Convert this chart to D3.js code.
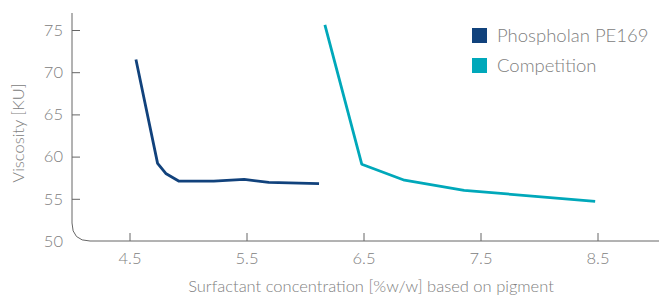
<!DOCTYPE html>
<html>
<head>
<meta charset="utf-8">
<script src="https://cdn.jsdelivr.net/npm/d3@7"></script>
<style>
  body { margin: 0; background: #fff; }
  text { font-family: Lato, "Open Sans", sans-serif; font-weight: 300; fill: #808080; }
</style>
</head>
<body>
<svg id="chart" width="659" height="296"></svg>
<script>
// data
const seriesNames = ['Phospholan PE169', 'Competition'];
const seriesColors = ['#11427c', '#00a8ba'];
const phospholan = [
  { x: 4.555, y: 71.5 }, { x: 4.74, y: 59.2 }, { x: 4.81, y: 58.0 },
  { x: 4.92, y: 57.1 }, { x: 5.22, y: 57.1 }, { x: 5.48, y: 57.3 },
  { x: 5.69, y: 56.95 }, { x: 6.12, y: 56.8 }
];
const competition = [
  { x: 6.17, y: 75.6 }, { x: 6.485, y: 59.1 }, { x: 6.85, y: 57.2 },
  { x: 7.36, y: 56.0 }, { x: 8.48, y: 54.7 }
];
const xTicks = [4.5, 5.5, 6.5, 7.5, 8.5];
const yTicks = [50, 55, 60, 65, 70, 75];

const svg = d3.select('#chart');

const x = d3.scaleLinear().domain([4, 9]).range([71, 656]);
const y = d3.scaleLinear().domain([50, 75]).range([241, 30]);

// axis frame with rounded corner
const r = 18;
svg.append('path')
  .attr('d', `M72,13 V${241 - r} Q72,241 ${72 + r},241 H659`)
  .attr('fill', 'none')
  .attr('stroke', '#666')
  .attr('stroke-width', 1);

const yAxis = svg.append('g')
  .attr('transform', 'translate(72,0)')
  .call(d3.axisLeft(y).tickValues(yTicks).tickSizeInner(-8).tickSizeOuter(0).tickPadding(9));
yAxis.select('.domain').remove();
yAxis.selectAll('line').attr('stroke', '#666');
yAxis.selectAll('.tick').filter(d => d === 50).select('line').remove();
yAxis.selectAll('text').attr('font-size', 16.5).attr('fill', '#808080');

const xAxis = svg.append('g')
  .attr('transform', 'translate(0,241)')
  .call(d3.axisBottom(x).tickValues(xTicks).tickFormat(d3.format('.1f')).tickSizeInner(-8).tickSizeOuter(0).tickPadding(11));
xAxis.select('.domain').remove();
xAxis.selectAll('line').attr('stroke', '#666');
xAxis.selectAll('text').attr('font-size', 16.5).attr('fill', '#808080');

// axis titles
svg.append('text')
  .attr('transform', 'translate(24,133) rotate(-90)')
  .attr('text-anchor', 'middle')
  .attr('font-size', 16.5)
  .text('Viscosity [KU]');

svg.append('text')
  .attr('x', 371)
  .attr('y', 292)
  .attr('text-anchor', 'middle')
  .attr('font-size', 16.5)
  .text('Surfactant concentration [%w/w] based on pigment');

// lines
const line = d3.line().x(d => x(d.x)).y(d => y(d.y));
[phospholan, competition].forEach((data, i) => {
  svg.append('path')
    .datum(data)
    .attr('d', line)
    .attr('fill', 'none')
    .attr('stroke', seriesColors[i])
    .attr('stroke-width', 2.8)
    .attr('stroke-linejoin', 'round');
});

// legend
const legend = svg.append('g').attr('transform', 'translate(472,28)');
seriesNames.forEach((name, i) => {
  const g = legend.append('g').attr('transform', `translate(0,${i * 30})`);
  g.append('rect').attr('width', 15).attr('height', 15).attr('fill', seriesColors[i]);
  g.append('text')
    .attr('x', 25)
    .attr('y', 7.5)
    .attr('dy', '0.35em')
    .attr('font-size', 18.5)
    .text(name);
});
</script>
</body>
</html>
